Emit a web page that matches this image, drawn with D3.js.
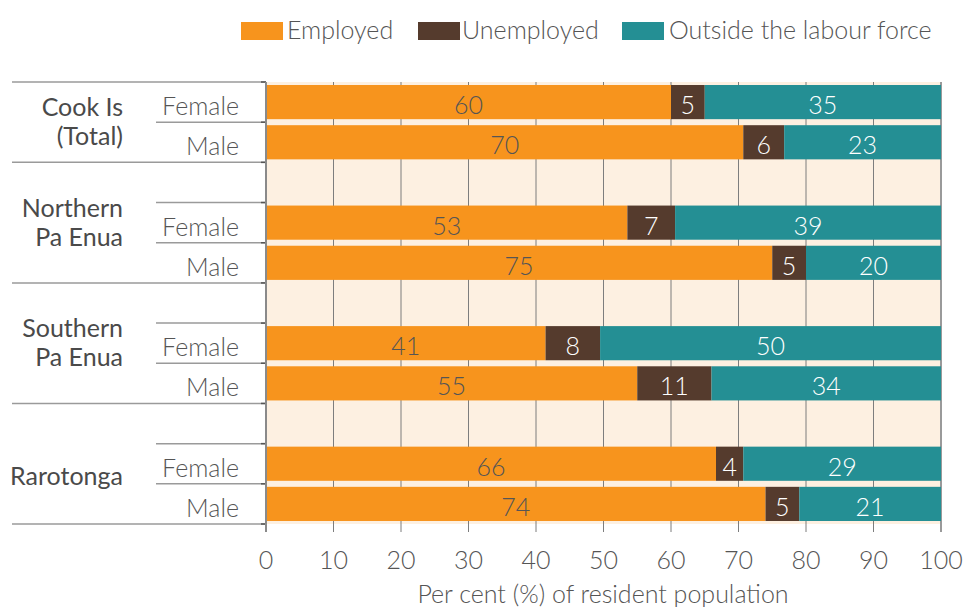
<!DOCTYPE html>
<html>
<head>
<meta charset="utf-8">
<script src="https://cdn.jsdelivr.net/npm/d3@7"></script>
<style>
  html, body { margin: 0; padding: 0; background: #ffffff; }
  svg { display: block; }
  text { font-family: Lato, "Open Sans", sans-serif; font-weight: 300; fill: #555555; }
</style>
</head>
<body>
<svg id="chart" width="965" height="607"></svg>
<script>
// Labour force status by region and sex (per cent of resident population)
const groups = ["Cook Is|(Total)", "Northern|Pa Enua", "Southern|Pa Enua", "Rarotonga"];
const sexes = ["Female", "Male"];
const seriesNames = ["Employed", "Unemployed", "Outside the labour force"];
const employed   = [60, 70, 53, 75, 41, 55, 66, 74];
const unemployed = [5, 6, 7, 5, 8, 11, 4, 5];
const outside    = [35, 23, 39, 20, 50, 34, 29, 21];
const xTicks = [0, 10, 20, 30, 40, 50, 60, 70, 80, 90, 100];

const colors = ["#f7941d", "#553b2d", "#248f94"];
const labelColors = ["#555555", "#ffffff", "#ffffff"];

// Build rows: the first group has no spacer row, the rest start with one
const rows = [];
const slots = [];
groups.forEach((g, gi) => {
  if (gi > 0) slots.push("gap-" + gi);
  sexes.forEach((s, si) => {
    const i = gi * sexes.length + si;
    const key = gi + "-" + s;
    slots.push(key);
    rows.push({ key, group: gi, sex: s,
      Employed: employed[i], Unemployed: unemployed[i], "Outside the labour force": outside[i] });
  });
});

const svg = d3.select("#chart");
const plot = { left: 266, right: 941, top: 82, bottom: 524 };

const x = d3.scaleLinear().domain([0, 1]).range([plot.left, plot.right]);
const xPct = d3.scaleLinear().domain([0, 100]).range([plot.left, plot.right]);
const y = d3.scaleBand().domain(slots).range([plot.top, plot.bottom]).padding(0);
const color = d3.scaleOrdinal().domain(seriesNames).range(colors);

const stacked = d3.stack().keys(seriesNames).offset(d3.stackOffsetExpand)(rows);

// Plot background
svg.append("rect")
  .attr("x", plot.left).attr("y", plot.top)
  .attr("width", plot.right - plot.left).attr("height", plot.bottom - plot.top)
  .attr("fill", "#fdf0e1");

// Vertical gridlines and ticks below the plot
svg.append("g").selectAll("line").data(xTicks).join("line")
  .attr("x1", d => xPct(d)).attr("x2", d => xPct(d))
  .attr("y1", plot.top).attr("y2", plot.bottom + 8)
  .attr("stroke", d => (d === 0 || d === 100) ? "#9a9a9a" : "#7d7d7d")
  .attr("stroke-width", d => (d === 0 || d === 100) ? 2 : 1);

// Left table rules
const groupBounds = [];
groups.forEach((g, gi) => {
  const keys = slots.filter(k => k.startsWith(gi + "-") || k === "gap-" + gi);
  const top = y(keys[0]);
  const bottom = y(keys[keys.length - 1]) + y.bandwidth();
  groupBounds.push({ gi, top, bottom, keys });
});
const fullRules = [plot.top].concat(groupBounds.map(b => b.bottom));
const partRules = [];
groupBounds.forEach(b => {
  b.keys.slice(0, -1).forEach(k => partRules.push(y(k) + y.bandwidth()));
});
const rules = svg.append("g");
rules.selectAll("line.full").data(fullRules).join("line").attr("class", "full")
  .attr("x1", 12).attr("x2", plot.left).attr("y1", d => d).attr("y2", d => d)
  .attr("stroke", "#9a9a9a").attr("stroke-width", 1.5);
rules.selectAll("line.part").data(partRules).join("line").attr("class", "part")
  .attr("x1", 156).attr("x2", plot.left).attr("y1", d => d).attr("y2", d => d)
  .attr("stroke", "#9a9a9a").attr("stroke-width", 1.5);
rules.selectAll("line.tick").data(fullRules.concat(partRules)).join("line").attr("class", "tick")
  .attr("x1", plot.left - 5).attr("x2", plot.left).attr("y1", d => d).attr("y2", d => d)
  .attr("stroke", "#555555").attr("stroke-width", 1.5);

// Bars
const barPad = y.bandwidth() * 0.075;
const barH = y.bandwidth() * 0.85;
const layers = svg.append("g").selectAll("g").data(stacked).join("g")
  .attr("fill", d => color(d.key));
layers.selectAll("rect").data(d => d).join("rect")
  .attr("x", d => x(d[0]))
  .attr("y", d => y(d.data.key) + barPad)
  .attr("width", d => x(d[1]) - x(d[0]))
  .attr("height", barH);

// Value labels
const valueLayers = svg.append("g").selectAll("g").data(stacked).join("g")
  .attr("data-series", d => d.key);
valueLayers.each(function(layer, li) {
  d3.select(this).selectAll("text").data(layer).join("text")
    .attr("x", d => (x(d[0]) + x(d[1])) / 2)
    .attr("y", d => y(d.data.key) + y.bandwidth() / 2 + 2)
    .attr("text-anchor", "middle")
    .attr("dominant-baseline", "central")
    .attr("font-size", 25)
    .style("fill", labelColors[li])
    .text(d => d.data[layer.key]);
});

// Y axis line
svg.append("line")
  .attr("x1", plot.left).attr("x2", plot.left)
  .attr("y1", plot.top).attr("y2", plot.bottom + 8)
  .attr("stroke", "#8a8a8a").attr("stroke-width", 2);

// Sex labels
svg.append("g").selectAll("text").data(rows).join("text")
  .attr("x", 239)
  .attr("y", d => y(d.key) + y.bandwidth() / 2 + 3)
  .attr("text-anchor", "end")
  .attr("dominant-baseline", "central")
  .attr("font-size", 25)
  .text(d => d.sex);

// Group labels
const labelShift = [-1.5, -1.5, -1.5, 11];
const lineGap = 29;
groupBounds.forEach(b => {
  const lines = groups[b.gi].split("|");
  const cy = (b.top + b.bottom) / 2 + labelShift[b.gi];
  const t = svg.append("text")
    .attr("text-anchor", "end")
    .attr("font-size", 25)
    .style("font-weight", 400)
    .style("fill", "#4a4a4a");
  lines.forEach((ln, li) => {
    t.append("tspan")
      .attr("x", 123)
      .attr("y", cy + (li - (lines.length - 1) / 2) * lineGap)
      .attr("dominant-baseline", "central")
      .text(ln);
  });
});

// X axis tick labels
svg.append("g").selectAll("text").data(xTicks).join("text")
  .attr("x", d => xPct(d))
  .attr("y", 559)
  .attr("text-anchor", "middle")
  .attr("dominant-baseline", "central")
  .attr("font-size", 25)
  .text(d => d);

// X axis title
svg.append("text")
  .attr("x", 603).attr("y", 593)
  .attr("text-anchor", "middle")
  .attr("dominant-baseline", "central")
  .attr("font-size", 25)
  .text("Per cent (%) of resident population");

// Legend
const legendItems = [
  { name: seriesNames[0], sx: 241, tx: 287 },
  { name: seriesNames[1], sx: 418, tx: 462 },
  { name: seriesNames[2], sx: 622, tx: 669 }
];
const legend = svg.append("g");
legend.selectAll("rect").data(legendItems).join("rect")
  .attr("x", d => d.sx).attr("y", 22).attr("width", 42).attr("height", 18)
  .attr("fill", d => color(d.name));
legend.selectAll("text").data(legendItems).join("text")
  .attr("x", d => d.tx).attr("y", 29)
  .attr("dominant-baseline", "central")
  .attr("font-size", 25)
  .text(d => d.name);
</script>
</body>
</html>
